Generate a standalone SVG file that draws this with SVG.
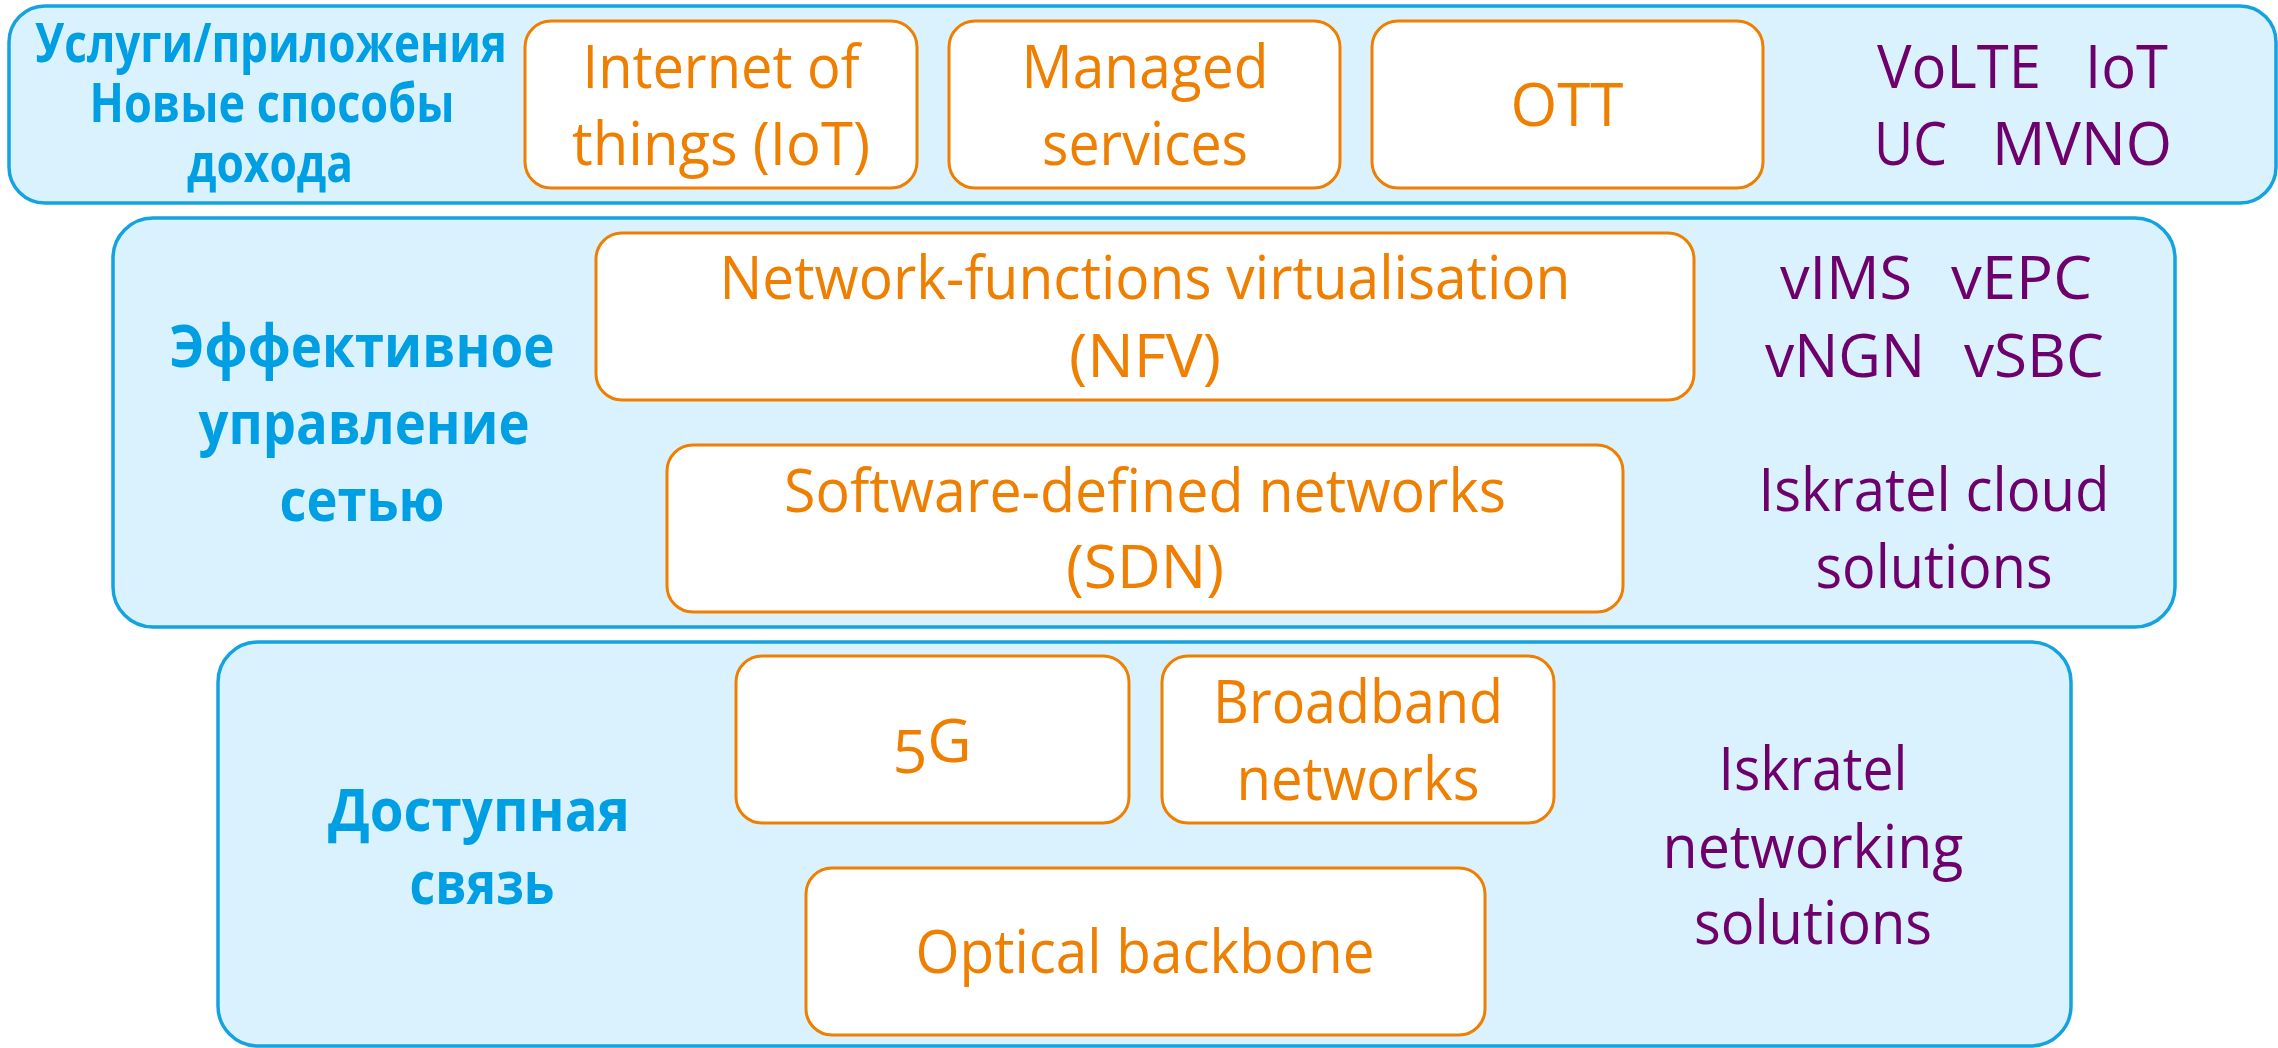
<svg xmlns="http://www.w3.org/2000/svg" width="2278" height="1048" viewBox="0 0 2278 1048">
<style>
.band{fill:#DAF2FD;stroke:#14A3E0;stroke-width:3.5}
.box{fill:#FFFFFF;stroke:#EF7F00;stroke-width:3}
text{font-family:"Open Sans","Noto Sans","DejaVu Sans",sans-serif;text-anchor:middle}
.o{fill:#EF7F00;font-size:61px}
.p{fill:#6E006E;font-size:60px}
.ps{fill:#6E006E;font-size:60px;text-anchor:start}
.l{fill:#009FE3;font-weight:bold;font-size:54px}
.lm{fill:#009FE3;font-weight:bold;font-size:59px}
</style>
<rect width="2278" height="1048" fill="#FFFFFF"/>
<g id="connectors"/>
<g id="layer-services">
<rect class="band" x="9" y="6" width="2267" height="197" rx="36" ry="36"/>
<text class="l" x="271" y="62" textLength="472" lengthAdjust="spacingAndGlyphs">Услуги/приложения</text>
<text class="l" x="272" y="122" textLength="365" lengthAdjust="spacingAndGlyphs">Новые способы</text>
<text class="l" x="270" y="182" textLength="166" lengthAdjust="spacingAndGlyphs">дохода</text>
<text class="ps" x="1877" y="88" textLength="164" lengthAdjust="spacingAndGlyphs">VoLTE</text>
<text class="ps" x="2085" y="88" textLength="83" lengthAdjust="spacingAndGlyphs">IoT</text>
<text class="ps" x="1874" y="165" textLength="73" lengthAdjust="spacingAndGlyphs">UC</text>
<text class="ps" x="1992" y="165" textLength="180" lengthAdjust="spacingAndGlyphs">MVNO</text>
</g>
<g id="node-iot">
<rect class="box" x="525" y="21" width="392" height="167" rx="26" ry="26"/>
<text class="o" x="721" y="88" textLength="277" lengthAdjust="spacingAndGlyphs">Internet of</text>
<text class="o" x="721" y="165" textLength="298" lengthAdjust="spacingAndGlyphs">things (IoT)</text>
</g>
<g id="node-managed">
<rect class="box" x="949" y="21" width="391" height="167" rx="26" ry="26"/>
<text class="o" x="1145" y="88" textLength="247" lengthAdjust="spacingAndGlyphs">Managed</text>
<text class="o" x="1145" y="165" textLength="206" lengthAdjust="spacingAndGlyphs">services</text>
</g>
<g id="node-ott">
<rect class="box" x="1372" y="21" width="391" height="167" rx="26" ry="26"/>
<text class="o" x="1567" y="126" textLength="113" lengthAdjust="spacingAndGlyphs">OTT</text>
</g>
<g id="layer-network">
<rect class="band" x="113" y="218" width="2062" height="409" rx="40" ry="40"/>
<text class="lm" x="362" y="367" textLength="385" lengthAdjust="spacingAndGlyphs">Эффективное</text>
<text class="lm" x="364" y="444" textLength="331" lengthAdjust="spacingAndGlyphs">управление</text>
<text class="lm" x="362" y="521" textLength="165" lengthAdjust="spacingAndGlyphs">сетью</text>
<text class="ps" x="1780" y="299" textLength="132" lengthAdjust="spacingAndGlyphs">vIMS</text>
<text class="ps" x="1951" y="299" textLength="141" lengthAdjust="spacingAndGlyphs">vEPC</text>
<text class="ps" x="1765" y="377" textLength="160" lengthAdjust="spacingAndGlyphs">vNGN</text>
<text class="ps" x="1964" y="377" textLength="140" lengthAdjust="spacingAndGlyphs">vSBC</text>
<text class="p" x="1934" y="511" textLength="351" lengthAdjust="spacingAndGlyphs">Iskratel cloud</text>
<text class="p" x="1934" y="588" textLength="237" lengthAdjust="spacingAndGlyphs">solutions</text>
</g>
<g id="node-nfv">
<rect class="box" x="596" y="233" width="1098" height="167" rx="26" ry="26"/>
<text class="o" x="1145" y="299" textLength="851" lengthAdjust="spacingAndGlyphs">Network-functions virtualisation</text>
<text class="o" x="1145" y="377" textLength="152" lengthAdjust="spacingAndGlyphs">(NFV)</text>
</g>
<g id="node-sdn">
<rect class="box" x="667" y="445" width="956" height="167" rx="26" ry="26"/>
<text class="o" x="1145" y="512" textLength="722" lengthAdjust="spacingAndGlyphs">Software-defined networks</text>
<text class="o" x="1145" y="588" textLength="158" lengthAdjust="spacingAndGlyphs">(SDN)</text>
</g>
<g id="layer-access">
<rect class="band" x="218" y="642" width="1853" height="404" rx="40" ry="40"/>
<text class="lm" x="479" y="831" textLength="302" lengthAdjust="spacingAndGlyphs">Доступная</text>
<text class="lm" x="482" y="904" textLength="145" lengthAdjust="spacingAndGlyphs">связь</text>
<text class="p" x="1813" y="790" textLength="189" lengthAdjust="spacingAndGlyphs">Iskratel</text>
<text class="p" x="1813" y="868" textLength="301" lengthAdjust="spacingAndGlyphs">networking</text>
<text class="p" x="1813" y="944" textLength="238" lengthAdjust="spacingAndGlyphs">solutions</text>
</g>
<g id="node-5g">
<rect class="box" x="736" y="656" width="393" height="167" rx="26" ry="26"/>
<text class="o" x="932" y="762"><tspan dy="11">5</tspan><tspan dy="-11">G</tspan></text>
</g>
<g id="node-broadband">
<rect class="box" x="1162" y="656" width="392" height="167" rx="26" ry="26"/>
<text class="o" x="1358" y="723" textLength="290" lengthAdjust="spacingAndGlyphs">Broadband</text>
<text class="o" x="1358" y="800" textLength="243" lengthAdjust="spacingAndGlyphs">networks</text>
</g>
<g id="node-optical">
<rect class="box" x="806" y="868" width="679" height="167" rx="26" ry="26"/>
<text class="o" x="1145" y="973" textLength="459" lengthAdjust="spacingAndGlyphs">Optical backbone</text>
</g>
</svg>
